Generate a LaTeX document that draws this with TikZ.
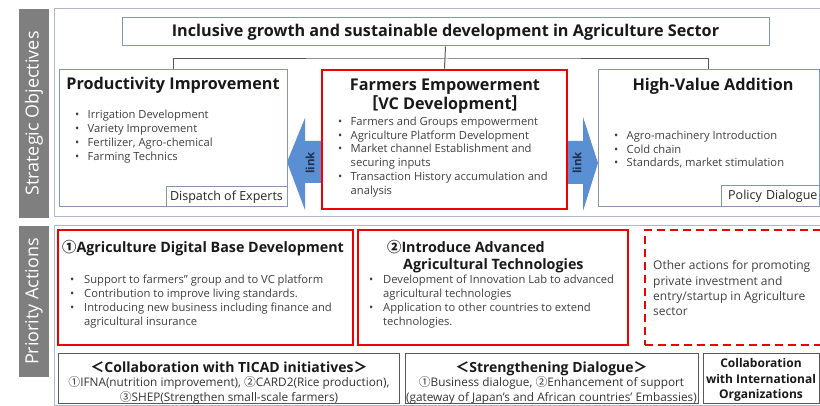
\documentclass[tikz,border=0pt]{standalone}
\usepackage{fontspec}
\setmainfont{Open Sans}
\newfontfamily\cjk{Noto Sans CJK JP}
\definecolor{sidegray}{HTML}{7F7F7F}
\definecolor{panelline}{HTML}{ADB9CA}
\definecolor{boxline}{HTML}{8497B0}
\definecolor{linkblue}{HTML}{5B8FD3}
\definecolor{linktext}{HTML}{1F2F4F}
\definecolor{bodytext}{HTML}{404040}
\definecolor{redline}{HTML}{F00000}
\definecolor{darkline}{HTML}{595959}
\newcommand\bodyfont{\fontsize{11.2}{13.8}\selectfont\color{bodytext}}
\newcommand\hdfont{\fontsize{16.2}{19.5}\selectfont\bfseries\color{black!90}}
\newcommand\bl{\makebox[12.5pt][l]{\textbullet}}
\newcommand\ind{\hspace*{12.5pt}}
\newcommand\blb{\makebox[14pt][l]{\textbullet}}
\newcommand\indb{\hspace*{14pt}}
\tikzset{
  sidebox/.style={fill=sidegray, text=white, rotate=90, inner sep=0pt,
    font=\fontsize{18}{20}\selectfont},
  panel/.style={draw=panelline, line width=1pt},
  bluebox/.style={draw=boxline, line width=1pt, fill=white, inner sep=0pt},
  redbox/.style={draw=redline, line width=2.6pt, fill=white, inner sep=0pt},
  dashbox/.style={draw=redline, line width=2.6pt, dash pattern=on 8pt off 5pt, inner sep=0pt},
  greybox/.style={draw=darkline, line width=1pt, fill=white, inner sep=0pt},
  tag/.style={draw=boxline, line width=1pt, fill=white, inner sep=0pt,
    font=\fontsize{12.5}{14}\selectfont\color{black!85}},
  conn/.style={draw=darkline, line width=1pt},
  linkarrow/.style={fill=linkblue},
  linklabel/.style={rotate=90, inner sep=0pt, text=linktext,
    font=\fontsize{11.5}{13}\selectfont\bfseries},
  list/.style={anchor=north west, align=left, inner sep=0pt, font=\bodyfont},
  acthd/.style={inner sep=0pt, font=\fontsize{14.3}{17}\selectfont\bfseries\color{black!90}},
  boxtext/.style={inner sep=0pt, align=center, font=\fontsize{11.8}{14.5}\selectfont\color{black!80}},
}
\newcommand\boxhd{\fontsize{14}{14.5}\selectfont\bfseries\color{black!90}}
\begin{document}
\begin{tikzpicture}[x=1pt,y=-1pt]
\useasboundingbox (0,0) rectangle (820,406);
\clip (0,0) rectangle (820,406);
\fill[white] (0,0) rectangle (820,406);

% side labels
\node[sidebox, minimum width=209pt, minimum height=30pt] (sideA) at (34,113.5) {Strategic Objectives};
\node[sidebox, minimum width=151pt, minimum height=30pt] (sideB) at (34,301.5) {Priority Actions};

% panels
\draw[panel] (54,9) rectangle (830,217);
\draw[panel] (54,226) rectangle (830,405);

% goal
\node[bluebox, minimum width=647pt, minimum height=28pt, font=\hdfont]
  (goal) at (445.5,32) {Inclusive growth and sustainable development in Agriculture Sector};

% link arrows (behind boxes)
\fill[linkarrow] (330,141) -- (305,141) -- (305,118) -- (287,162) -- (305,210) -- (305,183) -- (330,183) -- cycle;
\fill[linkarrow] (560,141) -- (583,141) -- (583,117) -- (598,163) -- (583,211) -- (583,184) -- (560,184) -- cycle;

% objective boxes
\node[bluebox, minimum width=228pt, minimum height=137pt] (prod) at (173,138.5) {};
\node[bluebox, minimum width=221pt, minimum height=137pt] (high) at (708.5,138.5) {};
\node[redbox, minimum width=245pt, minimum height=139pt] (farm) at (444.5,139.5) {};

\node[linklabel] (linkL) at (310,163) {link};
\node[linklabel] (linkR) at (577,163) {link};

% connectors
\coordinate (jn) at (446,59);
\draw[conn] (goal.south) -- (farm.north);
\draw[conn] (prod.north) |- (jn) -| (high.north);

% titles
\node[font=\hdfont, inner sep=0pt] (prodT) at (173,85) {Productivity Improvement};
\node[font=\hdfont, inner sep=0pt, align=center] (farmT) at (445,96) {Farmers Empowerment\\{\cjk ［}VC Development{\cjk ］}};
\node[font=\hdfont, inner sep=0pt] (highT) at (713,86) {High-Value Addition};

% lists
\node[list] (prodL) at (75,110) {\bl Irrigation Development\\ \bl Variety Improvement\\ \bl Fertilizer, Agro-chemical\\ \bl Farming Technics};
\node[list] (farmL) at (338,116.5) {\bl Farmers and Groups empowerment\\ \bl Agriculture Platform Development\\ \bl Market channel Establishment and\\ \ind securing inputs\\ \bl Transaction History accumulation and\\ \ind analysis};
\node[list] (highL) at (614,130.5) {\bl Agro-machinery Introduction\\ \bl Cold chain\\ \bl Standards, market stimulation};

% tags
\node[tag, minimum width=121pt, minimum height=20pt] (disp) at (226.5,197) {Dispatch of Experts};
\node[tag, minimum width=98pt, minimum height=21pt, text width=95pt, align=right] (pol) at (770,196.5) {Policy Dialogue};

% priority actions
\node[redbox, minimum width=295pt, minimum height=115pt] (act1) at (205.5,287.5) {};
\node[redbox, minimum width=270pt, minimum height=115pt] (act2) at (493,287.5) {};
\node[dashbox, minimum width=180pt, minimum height=115pt] (act3) at (735,287.5) {};

\node[acthd, anchor=west] (act1T) at (62,248.5) {{\cjk ①}Agriculture Digital Base Development};
\node[acthd, anchor=north west, align=left] (act2T) at (387,240.5) {{\cjk ②}Introduce Advanced\\\hspace*{16pt}Agricultural Technologies};

\node[list, font=\fontsize{11.2}{14}\selectfont\color{bodytext}] (act1L) at (70,275) {\blb Support to farmers” group and to VC platform\\ \blb Contribution to improve living standards.\\ \blb Introducing new business including finance and\\ \indb agricultural insurance};
\node[list, font=\fontsize{11.2}{14}\selectfont\color{bodytext}] (act2L) at (369,275) {\blb Development of Innovation Lab to advanced\\ \indb agricultural technologies\\ \blb Application to other countries to extend\\ \indb technologies.};
\node[list, font=\fontsize{12}{15.2}\selectfont\color{bodytext}] (act3L) at (653,260.5) {Other actions for promoting\\ private investment and\\ entry/startup in Agriculture\\ sector};

% bottom boxes
\node[greybox, minimum width=341pt, minimum height=50pt] (ticad) at (228.5,378) {};
\node[greybox, minimum width=293pt, minimum height=50pt] (dial) at (551.5,378) {};
\node[greybox, minimum width=116pt, minimum height=50pt] (intl) at (761,378) {};

\node[boxtext] (ticadT) at (229,383) {{\boxhd{\cjk ＜}Collaboration with TICAD initiatives{\cjk ＞}}\\{\cjk ①}IFNA(nutrition improvement), {\cjk ②}CARD2(Rice production),\\{\cjk ③}SHEP(Strengthen small-scale farmers)};
\node[boxtext] (dialT) at (551.5,383) {{\boxhd{\cjk ＜}Strengthening Dialogue{\cjk ＞}}\\{\cjk ①}Business dialogue, {\cjk ②}Enhancement of support\\(gateway of Japan's and African countries' Embassies)};
\node[inner sep=0pt, align=center, font=\fontsize{12}{15.5}\selectfont\bfseries\color{black!90}] (intlT) at (761,380) {Collaboration\\with International\\Organizations};
\end{tikzpicture}
\end{document}
